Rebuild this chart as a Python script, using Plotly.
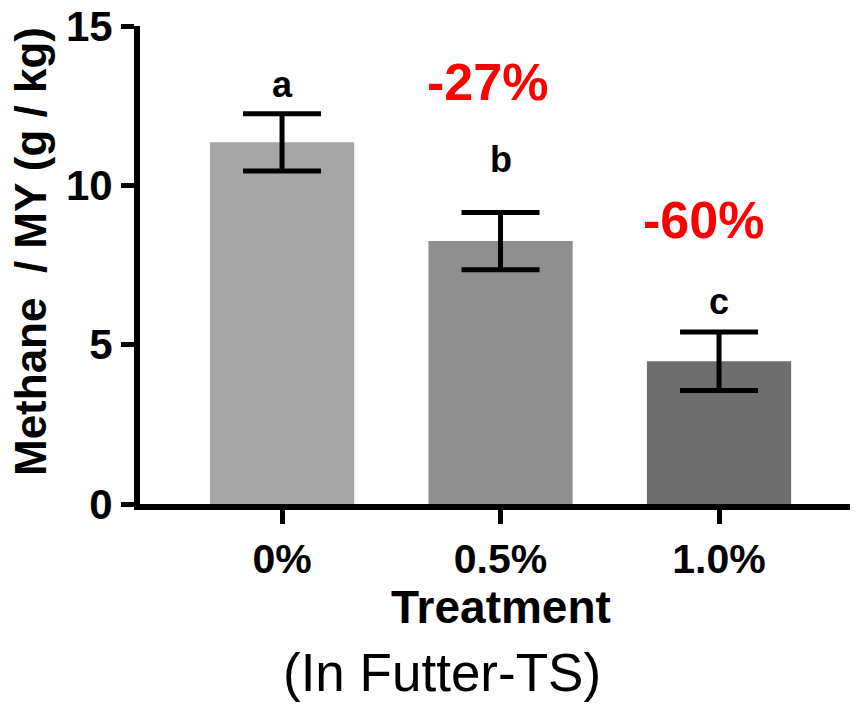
import plotly.graph_objects as go

categories = ["0%", "0.5%", "1.0%"]
values = [11.35, 8.25, 4.48]
errors = [0.9, 0.9, 0.92]
letters = ["a", "b", "c"]
reductions = ["", "-27%", "-60%"]
y_ticks = [0, 5, 10, 15]

bar_colors = ["#a6a6a6", "#8f8f8f", "#6e6e6e"]
letter_gap = [0.93, 1.67, 0.94]          # label offset above error cap (data units)
red_pos = [None, (0.94, 13.25), (1.93, 8.9)]

FONT = "Liberation Sans, Arial, sans-serif"

fig = go.Figure()
fig.add_trace(go.Bar(
    x=list(range(len(categories))),
    y=values,
    width=0.66,
    marker=dict(color=bar_colors, line=dict(width=0)),
    error_y=dict(type="data", array=errors, visible=True, color="black",
                 thickness=5, width=39),
    showlegend=False,
))

# significance letters above error bars
for i, (v, e, t) in enumerate(zip(values, errors, letters)):
    fig.add_annotation(x=i, y=v + e + letter_gap[i], text=t, showarrow=False,
                       yanchor="middle", xanchor="center",
                       font=dict(family=FONT, size=36, color="black", weight="bold"))

# reduction labels
for i, t in enumerate(reductions):
    if t:
        fig.add_annotation(x=red_pos[i][0], y=red_pos[i][1], text=t, showarrow=False,
                           xanchor="center", yanchor="middle",
                           font=dict(family=FONT, size=52, color="#ff0000", weight="bold"))

# axis titles as annotations
fig.add_annotation(xref="paper", yref="paper", x=0, y=0.5, xshift=-110, yshift=13,
                   text="Methane  / MY (g / kg)", textangle=-90, showarrow=False,
                   xanchor="center", yanchor="middle",
                   font=dict(family=FONT, size=44, color="black", weight="bold"))
fig.add_annotation(x=1.0, xref="x", yref="paper", y=0, yshift=-103, text="Treatment",
                   showarrow=False, xanchor="center", yanchor="middle",
                   font=dict(family=FONT, size=46, color="black", weight="bold"))
fig.add_annotation(x=0.73, xref="x", yref="paper", y=0, yshift=-168, text="(In Futter-TS)",
                   showarrow=False, xanchor="center", yanchor="middle",
                   font=dict(family=FONT, size=53, color="black"))

fig.update_layout(
    width=850, height=700,
    margin=dict(l=132, r=0, t=18, b=204),
    paper_bgcolor="white", plot_bgcolor="white",
    xaxis=dict(
        range=[-0.65, 2.636], automargin=False, ticklabeloverflow="allow",
        tickmode="array", tickvals=list(range(len(categories))), ticktext=categories,
        showline=True, linecolor="black", linewidth=6,
        ticks="outside", ticklen=14, tickwidth=5, tickcolor="black",
        tickfont=dict(family=FONT, size=41, color="black", weight="bold"),
        showgrid=False, zeroline=False,
    ),
    yaxis=dict(
        range=[0, 15], automargin=False, ticklabeloverflow="allow",
        tickmode="array", tickvals=y_ticks,
        showline=True, linecolor="black", linewidth=6,
        ticks="outside", ticklen=13, tickwidth=5, tickcolor="black",
        tickfont=dict(family=FONT, size=42, color="black", weight="bold"),
        showgrid=False, zeroline=False,
    ),
)

fig.write_html("out.html")
